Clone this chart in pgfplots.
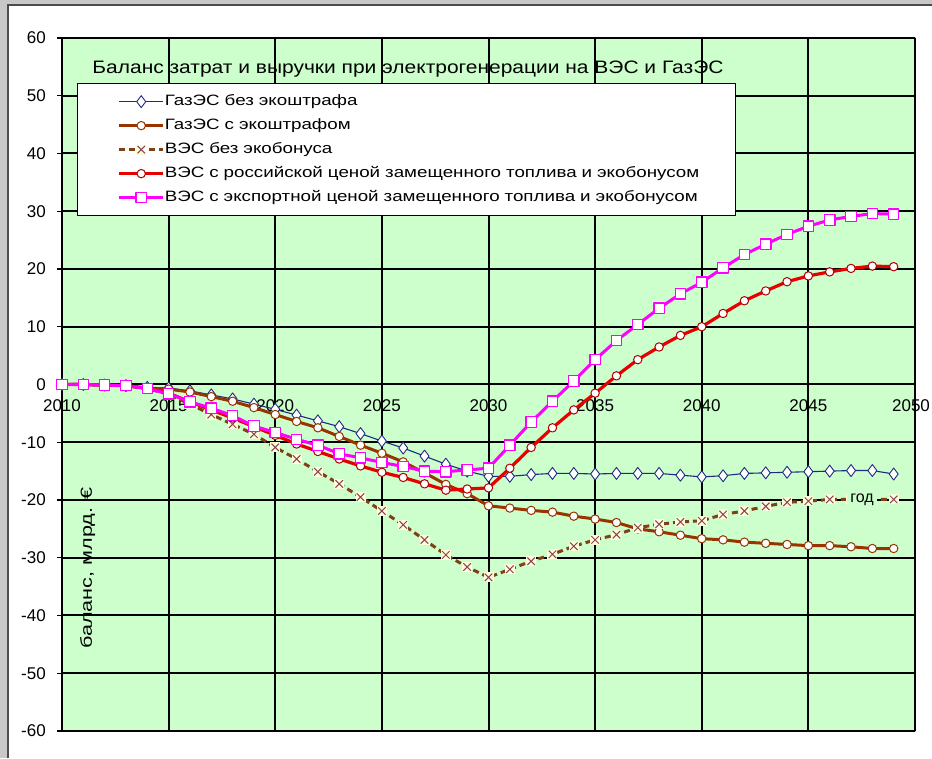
\documentclass[border=0pt]{standalone}
\usepackage{pgfplots}
\usepackage{pgfplotstable}
\pgfplotsset{compat=1.18}
\usepackage{fontspec}
\setmainfont{Liberation Sans}
\newfontfamily\titlefont[FakeStretch=1.165]{Liberation Sans}
\newfontfamily\legfont[FakeStretch=1.25]{Liberation Sans}
\newfontfamily\ylabfont[FakeStretch=1.35]{Liberation Sans}

\definecolor{plotbg}{HTML}{CCFFCC}
\definecolor{gasnavy}{HTML}{1F2A80}
\definecolor{gasbrown}{HTML}{993300}
\definecolor{windbrown}{HTML}{7F4016}
\definecolor{windx}{HTML}{884455}
\definecolor{windred}{HTML}{E80000}
\definecolor{windredmk}{HTML}{B00000}
\definecolor{windmag}{HTML}{FF00FF}
\definecolor{framegray}{HTML}{C8C8C8}

% white box with a cross on it
\pgfdeclareplotmark{boxcross}{%
  \pgfscope
  \pgfsetfillcolor{white!85!yellow}%
  \pgfpathrectangle{\pgfpoint{-\pgfplotmarksize}{-\pgfplotmarksize}}%
    {\pgfpoint{2\pgfplotmarksize}{2\pgfplotmarksize}}%
  \pgfusepathqfill
  \endpgfscope
  \pgfpathmoveto{\pgfpoint{-0.75\pgfplotmarksize}{-0.75\pgfplotmarksize}}%
  \pgfpathlineto{\pgfpoint{0.75\pgfplotmarksize}{0.75\pgfplotmarksize}}%
  \pgfpathmoveto{\pgfpoint{-0.75\pgfplotmarksize}{0.75\pgfplotmarksize}}%
  \pgfpathlineto{\pgfpoint{0.75\pgfplotmarksize}{-0.75\pgfplotmarksize}}%
  \pgfusepathqstroke
}

% year, gas without penalty, gas with penalty, wind without bonus,
% wind with domestic fuel price + bonus, wind with export fuel price + bonus
\pgfplotstableread{
year  gasA   gasB   windA  windB  windC
2010  0.0    0.0    0.0    0.0    0.0
2011  0.0    0.0    0.0    0.0    0.0
2012  -0.1   -0.1   -0.1   -0.1   -0.1
2013  -0.2   -0.2   -0.2   -0.2   -0.2
2014  -0.5   -0.6   -0.7   -0.7   -0.7
2015  -0.6   -0.8   -1.7   -1.5   -1.6
2016  -1.1   -1.3   -3.4   -3.0   -3.0
2017  -1.8   -2.1   -5.2   -4.4   -4.1
2018  -2.5   -2.9   -6.9   -5.8   -5.4
2019  -3.4   -4.0   -8.6   -7.3   -7.2
2020  -4.3   -5.2   -10.9  -8.8   -8.3
2021  -5.3   -6.4   -12.9  -10.3  -9.5
2022  -6.3   -7.5   -15.1  -11.6  -10.5
2023  -7.3   -9.0   -17.2  -12.9  -12.0
2024  -8.5   -10.5  -19.5  -14.1  -12.7
2025  -9.8   -11.9  -21.9  -15.2  -13.5
2026  -11.0  -13.4  -24.3  -16.1  -14.2
2027  -12.4  -15.3  -26.9  -17.2  -15.0
2028  -13.8  -17.3  -29.5  -18.3  -15.1
2029  -15.0  -18.9  -31.6  -18.1  -14.8
2030  -15.9  -21.0  -33.4  -17.9  -14.5
2031  -15.9  -21.4  -32.0  -14.5  -10.5
2032  -15.6  -21.8  -30.6  -10.9  -6.5
2033  -15.4  -22.1  -29.4  -7.5   -2.9
2034  -15.4  -22.8  -28.0  -4.4   0.6
2035  -15.5  -23.3  -26.9  -1.5   4.3
2036  -15.4  -23.9  -26.0  1.5    7.6
2037  -15.4  -25.0  -24.8  4.3    10.4
2038  -15.4  -25.5  -24.2  6.5    13.2
2039  -15.7  -26.1  -23.8  8.5    15.7
2040  -16.0  -26.7  -23.6  10.0   17.7
2041  -15.8  -26.9  -22.5  12.3   20.2
2042  -15.4  -27.3  -21.9  14.5   22.5
2043  -15.3  -27.5  -21.1  16.2   24.3
2044  -15.2  -27.7  -20.4  17.8   26.0
2045  -15.1  -27.9  -20.2  18.8   27.4
2046  -15.0  -27.9  -19.9  19.5   28.5
2047  -14.9  -28.1  -19.9  20.1   29.1
2048  -14.9  -28.4  -19.9  20.5   29.6
2049  -15.5  -28.4  -19.9  20.4   29.5
}\balance

\begin{document}
\begin{tikzpicture}
% chart frame
\fill[framegray] (0pt,0pt) rectangle (932pt,758pt);
\fill[white] (8pt,0pt) rectangle (932pt,753pt);
\draw[black!70, line width=1.2pt] (8pt,0pt) -- (8pt,753pt) -- (932pt,753pt);

\begin{axis}[
  at={(62pt,27pt)}, anchor=south west,
  scale only axis, width=853pt, height=693pt,
  xmin=2010, xmax=2050, ymin=-60, ymax=60,
  axis x line=middle, axis y line=left,
  hide obscured x ticks=false, hide obscured y ticks=false,
  axis line style={-, black, line width=1.8pt},
  axis background/.style={fill=plotbg, draw=gray, line width=1.6pt},
  xtick={2010,2015,...,2050},
  xticklabels={2010,2015,2020,2025,2030,2035,2040,2045,{\hspace*{-8pt}2050}},
  ytick={-60,-50,...,60},
  yticklabels={-60,-50,-40,-30,-20,-10,0,10,20,30,40,50,60},
  grid=major, major grid style={black, line width=2pt},
  tick align=outside, major tick length=5pt, tick style={black, line width=1.4pt},
  xticklabel style={anchor=north, inner sep=0pt, yshift=-10pt, font=\fontsize{17}{17}\selectfont},
  yticklabel style={anchor=east, inner sep=0pt, xshift=-11pt, font=\fontsize{17}{17}\selectfont},
  clip=false,
  title={Баланс затрат и выручки при электрогенерации на ВЭС и ГазЭС},
  title style={at={(axis description cs:0.4056,0.947)}, anchor=center, inner sep=0pt,
    font=\titlefont\fontsize{18}{18}\selectfont},
  xlabel={год},
  xlabel style={at={(axis description cs:0.938,0.333)}, anchor=center, fill=plotbg,
    inner xsep=3pt, inner ysep=2pt, font=\fontsize{16}{16}\selectfont},
  ylabel={баланс, млрд. €},
  ylabel style={at={(axis description cs:0.030,0.235)}, anchor=center, inner sep=0pt,
    font=\ylabfont\fontsize{16}{16}\selectfont},
  legend cell align=left,
  legend image code/.code={%
    \path (0pt,0pt);
    \draw[mark repeat=2, mark phase=2, #1] plot coordinates {(40pt,0pt) (62pt,0pt) (84pt,0pt)};},
  legend style={at={(axis description cs:0.0176,0.935)}, anchor=north west,
    fill=white, draw=black, line width=1.2pt, inner xsep=0pt, inner ysep=6pt,
    row sep=0pt, column sep=0pt, font=\legfont\fontsize{15}{15}\selectfont,
    nodes={inner xsep=0pt, inner ysep=4.5pt, text height=11pt, text depth=4pt,
      text width=571pt}},
  line join=round,
]
\addplot[color=gasnavy, line width=1.1pt, mark=diamond*, mark size=6pt,
  mark options={fill=white, draw=gasnavy, line width=0.9pt}]
  table[x=year, y=gasA]{\balance};
\addlegendentry{ГазЭС без экоштрафа}

\addplot[color=gasbrown, line width=3pt, mark=*, mark size=4.2pt,
  mark options={fill=white, draw=gasbrown, line width=1pt}]
  table[x=year, y=gasB]{\balance};
\addlegendentry{ГазЭС с экоштрафом}

\addplot[color=windbrown, line width=3pt, dash pattern=on 6pt off 4pt,
  mark=boxcross, mark size=5pt,
  mark options={solid, draw=windx, line width=1pt}]
  table[x=year, y=windA]{\balance};
\addlegendentry{ВЭС без экобонуса}

\addplot[color=windred, line width=3.2pt, mark=*, mark size=4.2pt,
  mark options={fill=white, draw=windredmk, line width=1pt}]
  table[x=year, y=windB]{\balance};
\addlegendentry{ВЭС с российской ценой замещенного топлива и экобонусом}

\addplot[color=windmag, line width=3pt, mark=square*, mark size=5.2pt,
  mark options={fill=white, draw=windmag, line width=1.2pt}]
  table[x=year, y=windC]{\balance};
\addlegendentry{ВЭС с экспортной ценой замещенного топлива и экобонусом}
\end{axis}

\pgfresetboundingbox
\path[use as bounding box] (0pt,0pt) rectangle (932pt,758pt);
\end{tikzpicture}
\end{document}
